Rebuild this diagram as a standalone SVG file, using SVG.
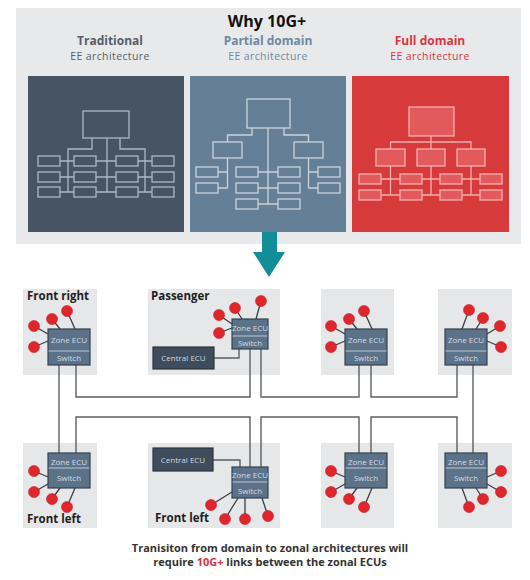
<svg xmlns="http://www.w3.org/2000/svg" width="530" height="580" viewBox="0 0 530 580">
<defs>
<style>
.t{font-family:"Open Sans","Liberation Sans",sans-serif}
.hd{font-family:"Open Sans","Liberation Sans",sans-serif;font-size:12px;font-weight:700;text-anchor:middle}
.sb{font-family:"Open Sans","Liberation Sans",sans-serif;font-size:10.5px;letter-spacing:0.4px;text-anchor:middle}
.tree{fill:none;stroke:#aeb8c3;stroke-width:1.3}
.ptree{fill:none;stroke:#c9d4de;stroke-width:1.3}
.ftree{fill:#e25a5c;stroke:#f4b0b0;stroke-width:1.3}
.fline{fill:none;stroke:#f4b0b0;stroke-width:1.3}
.zone{fill:#e6e7e9}
.ecu{fill:#5b7289;stroke:#35424f;stroke-width:1.2}
.div{stroke:#b9c8d6;stroke-width:1}
.cecu{fill:#3f4c5b;stroke:#2a3440;stroke-width:1.2}
.et{font-family:"Open Sans","Liberation Sans",sans-serif;font-size:8px;fill:#d3dde7;text-anchor:middle}
.ct{font-family:"Open Sans","Liberation Sans",sans-serif;font-size:8px;fill:#cfd7df;text-anchor:middle}
.spoke{stroke:#3a3f45;stroke-width:1.3}
.dot{fill:#df262c;stroke:#c21f25;stroke-width:0.6}
.link{fill:none;stroke:#5c5f63;stroke-width:1.4}
.zl{font-family:"Open Sans","Liberation Sans",sans-serif;font-size:11.5px;font-weight:700;fill:#1e1e1e}
</style>
</defs>
<rect x="16" y="8" width="505" height="236" fill="#e8e9eb"/>
<text class="t" x="267" y="27" font-size="16" font-weight="700" fill="#111" text-anchor="middle">Why 10G+</text>
<g id="traditional">
<text class="hd" x="110" y="45" fill="#555e68">Traditional</text>
<text class="sb" x="110" y="60" fill="#555e68">EE architecture</text>
<rect x="28" y="76" width="156" height="156" fill="#465464"/>
<rect class="tree" x="83" y="111" width="46" height="27"/>
<path class="tree" d="M92,138V149H68V192M107,138V192M120,138V149H145V192M60,161H74M60,177H74M60,192H74M96,161H116M96,177H116M96,192H116M138,161H152M138,177H152M138,192H152"/>
<g class="tree">
<rect x="38" y="156" width="22" height="10"/><rect x="38" y="172" width="22" height="10"/><rect x="38" y="187" width="22" height="10"/>
<rect x="74" y="156" width="22" height="10"/><rect x="74" y="172" width="22" height="10"/><rect x="74" y="187" width="22" height="10"/>
<rect x="116" y="156" width="22" height="10"/><rect x="116" y="172" width="22" height="10"/><rect x="116" y="187" width="22" height="10"/>
<rect x="152" y="156" width="22" height="10"/><rect x="152" y="172" width="22" height="10"/><rect x="152" y="187" width="22" height="10"/>
</g>
</g>
<g id="partial">
<text class="hd" x="268" y="45" fill="#6d889f">Partial domain</text>
<text class="sb" x="268" y="60" fill="#6d889f">EE architecture</text>
<rect x="190" y="76" width="156" height="156" fill="#657f97"/>
<rect class="ptree" x="247" y="99" width="43" height="29"/>
<rect class="ptree" x="213" y="142" width="29" height="16"/>
<rect class="ptree" x="294" y="142" width="29" height="16"/>
<path class="ptree" d="M268,128V204M258,172H278M258,188H278M258,204H278M252,128V135H227.5V142M227.5,158V188M218,172H227.5M218,188H227.5M284,128V135H308.5V142M308.5,158V188M308.5,172H318M308.5,188H318"/>
<g class="ptree">
<rect x="196" y="167" width="22" height="10"/><rect x="196" y="183" width="22" height="10"/>
<rect x="236" y="167" width="22" height="10"/><rect x="236" y="183" width="22" height="10"/><rect x="236" y="199" width="22" height="10"/>
<rect x="278" y="167" width="22" height="10"/><rect x="278" y="183" width="22" height="10"/><rect x="278" y="199" width="22" height="10"/>
<rect x="318" y="167" width="22" height="10"/><rect x="318" y="183" width="22" height="10"/>
</g>
</g>
<g id="full">
<text class="hd" x="430" y="45" fill="#d9383e">Full domain</text>
<text class="sb" x="430" y="60" fill="#d9383e">EE architecture</text>
<rect x="352" y="76" width="157" height="156" fill="#d63a3b"/>
<path class="fline" d="M431,136V149M390.5,149V142H471V149M390.5,166V195M431,166V195M471,166V195M381,179H400M381,195H400M422,179H440M422,195H440M462,179H480M462,195H480"/>
<rect class="ftree" x="409" y="107" width="45" height="29"/>
<rect class="ftree" x="376" y="149" width="29" height="17"/>
<rect class="ftree" x="417" y="149" width="28" height="17"/>
<rect class="ftree" x="457" y="149" width="28" height="17"/>
<g class="ftree">
<rect x="359" y="174" width="22" height="10"/><rect x="359" y="190" width="22" height="10"/>
<rect x="400" y="174" width="22" height="10"/><rect x="400" y="190" width="22" height="10"/>
<rect x="440" y="174" width="22" height="10"/><rect x="440" y="190" width="22" height="10"/>
<rect x="480" y="174" width="22" height="10"/><rect x="480" y="190" width="22" height="10"/>
</g>
</g>
<path id="arrow" d="M262,232H277V252H285L269,277L253,252H262Z" fill="#128e99"/>
<g id="zone-bgs">
<rect class="zone" x="23" y="289" width="74" height="86"/>
<rect class="zone" x="148" y="289" width="132" height="86"/>
<rect class="zone" x="321" y="289" width="73" height="86"/>
<rect class="zone" x="438" y="289" width="74" height="86"/>
<rect class="zone" x="23" y="443" width="74" height="85"/>
<rect class="zone" x="148" y="443" width="132" height="85"/>
<rect class="zone" x="321" y="443" width="73" height="85"/>
<rect class="zone" x="438" y="443" width="74" height="85"/>
</g>
<g id="connectors">
<path class="link" d="M59,365V453"/>
<path class="link" d="M76,365V397H250V349"/>
<path class="link" d="M261,349V397H359V365"/>
<path class="link" d="M371,365V397H457V365"/>
<path class="link" d="M473,365V453"/>
<path class="link" d="M76,453V417H250V467"/>
<path class="link" d="M261,467V417H359V453"/>
<path class="link" d="M371,453V417H457V453"/>
<path class="link" d="M214,358H239V349"/>
<path class="link" d="M213,460H240V467"/>
</g>
<g id="front-right">
<text class="zl" x="27" y="300">Front right</text>
<path class="spoke" d="M34,326L48,334M52,319L60,329M67,311L75,329M34,347L48,341"/>
<circle class="dot" cx="34" cy="326" r="5.5"/><circle class="dot" cx="52" cy="319" r="5.5"/><circle class="dot" cx="67" cy="311" r="5.5"/><circle class="dot" cx="34" cy="347" r="5.5"/>
<rect class="ecu" x="48" y="329" width="42" height="36"/><line class="div" x1="48.6" y1="351" x2="89.4" y2="351"/>
<text class="et" x="69" y="343">Zone ECU</text><text class="et" x="69" y="361">Switch</text>
</g>
<g id="passenger">
<text class="zl" x="151" y="300">Passenger</text>
<path class="spoke" d="M219,315L232,324M235,308L242,319M261,301L256,319M219,333L232,328"/>
<circle class="dot" cx="219" cy="315" r="5.5"/><circle class="dot" cx="235" cy="308" r="5.5"/><circle class="dot" cx="261" cy="301" r="5.5"/><circle class="dot" cx="219" cy="333" r="5.5"/>
<rect class="ecu" x="232" y="319" width="36" height="30"/><line class="div" x1="232.6" y1="336" x2="267.4" y2="336"/>
<text class="et" x="250" y="330.5" font-size="7.2">Zone ECU</text><text class="et" x="250" y="345.5" font-size="7.2">Switch</text>
<rect class="cecu" x="153" y="347" width="61" height="22"/>
<text class="ct" x="183.5" y="361">Central ECU</text>
</g>
<g id="zone-3">
<path class="spoke" d="M331,326L345,334M349,319L357,329M364,311L372,329M331,347L345,341"/>
<circle class="dot" cx="331" cy="326" r="5.5"/><circle class="dot" cx="349" cy="319" r="5.5"/><circle class="dot" cx="364" cy="311" r="5.5"/><circle class="dot" cx="331" cy="347" r="5.5"/>
<rect class="ecu" x="345" y="329" width="42" height="36"/><line class="div" x1="345.6" y1="351" x2="386.4" y2="351"/>
<text class="et" x="366" y="343">Zone ECU</text><text class="et" x="366" y="361">Switch</text>
</g>
<g id="zone-4">
<path class="spoke" d="M469,310L462,329M483,318L476,329M500,326L487,334M501,347L487,341"/>
<circle class="dot" cx="469" cy="310" r="5.5"/><circle class="dot" cx="483" cy="318" r="5.5"/><circle class="dot" cx="500" cy="326" r="5.5"/><circle class="dot" cx="501" cy="347" r="5.5"/>
<rect class="ecu" x="445" y="329" width="42" height="36"/><line class="div" x1="445.6" y1="351" x2="486.4" y2="351"/>
<text class="et" x="466" y="343">Zone ECU</text><text class="et" x="466" y="361">Switch</text>
</g>
<g id="front-left-1">
<text class="zl" x="27" y="523">Front left</text>
<path class="spoke" d="M34,471L48,477M34,492L48,484M52,499L60,488M67,507L75,488"/>
<circle class="dot" cx="34" cy="471" r="5.5"/><circle class="dot" cx="34" cy="492" r="5.5"/><circle class="dot" cx="52" cy="499" r="5.5"/><circle class="dot" cx="67" cy="507" r="5.5"/>
<rect class="ecu" x="48" y="453" width="42" height="35"/><line class="div" x1="48.6" y1="468" x2="89.4" y2="468"/>
<text class="et" x="69" y="464.5">Zone ECU</text><text class="et" x="69" y="481">Switch</text>
</g>
<g id="front-left-2">
<text class="zl" x="155" y="522">Front left</text>
<path class="spoke" d="M211,505L232,492M225,519L238,498M245,519L245,498M268,516L262,498"/>
<circle class="dot" cx="211" cy="505" r="5.5"/><circle class="dot" cx="225" cy="519" r="5.5"/><circle class="dot" cx="245" cy="519" r="5.5"/><circle class="dot" cx="268" cy="516" r="5.5"/>
<rect class="ecu" x="232" y="467" width="36" height="31"/><line class="div" x1="232.6" y1="482" x2="267.4" y2="482"/>
<text class="et" x="250" y="478" font-size="7.2">Zone ECU</text><text class="et" x="250" y="493.5" font-size="7.2">Switch</text>
<rect class="cecu" x="153" y="448" width="60" height="23"/>
<text class="ct" x="183" y="462.5">Central ECU</text>
</g>
<g id="zone-7">
<path class="spoke" d="M331,471L345,477M331,492L345,484M349,499L357,488M364,507L372,488"/>
<circle class="dot" cx="331" cy="471" r="5.5"/><circle class="dot" cx="331" cy="492" r="5.5"/><circle class="dot" cx="349" cy="499" r="5.5"/><circle class="dot" cx="364" cy="507" r="5.5"/>
<rect class="ecu" x="345" y="453" width="42" height="35"/><line class="div" x1="345.6" y1="468" x2="386.4" y2="468"/>
<text class="et" x="366" y="464.5">Zone ECU</text><text class="et" x="366" y="481">Switch</text>
</g>
<g id="zone-8">
<path class="spoke" d="M501,471L487,477M501,492L487,484M483,499L476,488M469,507L462,488"/>
<circle class="dot" cx="501" cy="471" r="5.5"/><circle class="dot" cx="501" cy="492" r="5.5"/><circle class="dot" cx="483" cy="499" r="5.5"/><circle class="dot" cx="469" cy="507" r="5.5"/>
<rect class="ecu" x="445" y="453" width="42" height="35"/><line class="div" x1="445.6" y1="468" x2="486.4" y2="468"/>
<text class="et" x="466" y="464.5">Zone ECU</text><text class="et" x="466" y="481">Switch</text>
</g>
<g id="caption" class="t" font-size="11" font-weight="700" fill="#333" text-anchor="middle">
<text x="270" y="552">Tranisiton from domain to zonal architectures will</text>
<text x="270" y="565.5">require <tspan fill="#d8333a">10G+</tspan> links between the zonal ECUs</text>
</g>
</svg>
